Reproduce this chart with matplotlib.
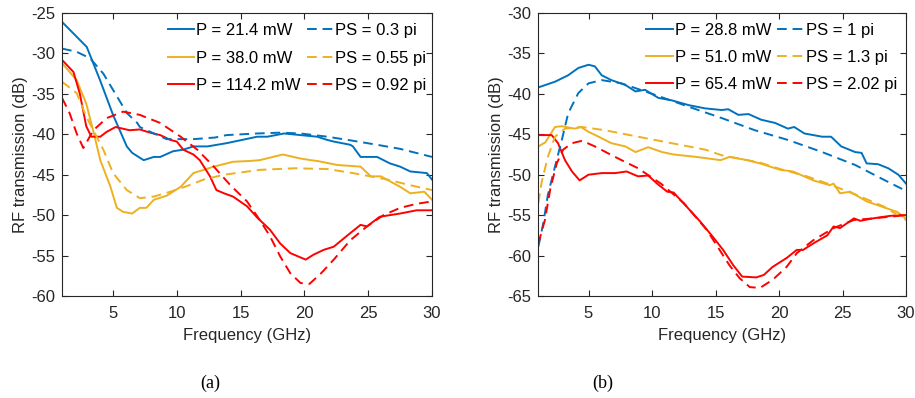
import matplotlib
matplotlib.use("Agg")
import matplotlib.pyplot as plt

plt.rcParams['font.family'] = ['Liberation Sans', 'DejaVu Sans']
plt.rcParams['axes.unicode_minus'] = False

# ---------------- Panel (a) ----------------
a_p1_f = [1.0, 2.94, 3.98, 5.0, 6.08, 6.5, 7.4, 8.2, 8.7, 9.7, 10.5, 11.3, 12.4, 13.9, 16.3, 17.1, 18.4, 19.7, 21.0, 21.8, 22.3, 23.6, 23.8, 24.4, 25.7, 26.7, 27.5, 28.3, 29.6, 30.0]
a_p1_v = [-26.1, -29.2, -33.3, -37.6, -41.5, -42.3, -43.2, -42.8, -42.8, -42.1, -41.9, -41.5, -41.5, -41.1, -40.3, -40.3, -39.9, -40.1, -40.3, -40.7, -40.9, -41.3, -41.5, -42.8, -42.8, -43.6, -44.0, -44.6, -44.8, -45.6]
a_ps1_f = [1.0, 2.15, 3.2, 4.24, 5.3, 6.1, 6.9, 7.1, 8.2, 9.2, 10.5, 11.3, 13.0, 13.9, 16.3, 18.1, 19.7, 21.8, 23.8, 25.7, 27.5, 30.0]
a_ps1_v = [-29.4, -29.8, -30.6, -32.5, -35.3, -37.4, -38.6, -39.1, -39.9, -40.6, -40.6, -40.6, -40.4, -40.1, -39.9, -39.8, -39.9, -40.3, -40.8, -41.3, -41.8, -42.8]
a_p2_f = [1.0, 2.15, 2.9, 3.5, 4.0, 4.8, 5.3, 5.8, 6.5, 7.1, 7.6, 8.2, 9.2, 10.0, 10.3, 11.3, 12.9, 14.4, 15.7, 16.5, 18.3, 19.7, 20.5, 21.0, 22.6, 24.4, 25.2, 26.0, 27.5, 28.3, 29.4, 30.0]
a_p2_v = [-31.2, -33.3, -36.2, -39.9, -43.2, -46.5, -49.1, -49.6, -49.8, -49.1, -49.1, -48.1, -47.6, -46.8, -46.5, -44.8, -44.0, -43.4, -43.3, -43.2, -42.5, -43.0, -43.2, -43.3, -43.8, -44.0, -45.2, -45.2, -46.5, -47.3, -47.1, -48.1]
a_ps2_f = [1.0, 2.15, 2.9, 4.24, 5.0, 6.08, 7.1, 8.2, 9.5, 10.8, 12.1, 13.7, 16.5, 19.2, 21.8, 23.8, 26.5, 28.3, 30.0]
a_ps2_v = [-33.5, -34.9, -37.8, -41.9, -44.8, -46.9, -47.9, -47.7, -47.1, -46.4, -45.6, -45.0, -44.4, -44.2, -44.3, -44.8, -45.6, -46.3, -46.9]
a_p3_f = [1.0, 1.9, 2.4, 2.9, 3.3, 4.0, 4.5, 5.2, 6.3, 7.1, 7.9, 8.7, 9.5, 10.0, 10.5, 11.3, 11.8, 12.6, 13.1, 13.7, 14.4, 15.5, 16.3, 17.3, 18.1, 18.9, 20.1, 20.7, 21.5, 22.3, 23.3, 24.4, 24.9, 25.9, 26.7, 27.5, 28.8, 30.0]
a_p3_v = [-30.8, -32.3, -35.0, -39.0, -40.3, -40.3, -39.7, -39.1, -39.5, -39.4, -39.8, -40.1, -40.7, -40.9, -41.9, -42.5, -43.2, -45.2, -46.9, -47.3, -47.7, -48.9, -50.3, -51.8, -53.5, -54.7, -55.5, -54.9, -54.3, -53.9, -52.6, -51.2, -51.4, -50.2, -50.0, -49.8, -49.4, -49.4]
a_ps3_f = [1.0, 1.6, 2.15, 2.67, 3.46, 4.5, 5.8, 7.1, 8.7, 10.3, 11.6, 12.9, 14.2, 15.5, 16.5, 17.3, 18.1, 18.9, 19.7, 20.4, 21.3, 22.3, 23.6, 24.9, 26.2, 27.5, 28.8, 30.0]
a_ps3_v = [-35.5, -37.4, -39.9, -41.7, -39.5, -38.0, -37.2, -37.6, -38.6, -40.3, -41.9, -44.0, -46.3, -48.3, -50.6, -52.6, -55.1, -57.2, -58.4, -58.5, -57.2, -55.5, -53.1, -51.4, -50.0, -49.1, -48.6, -48.3]
a_labels_p = ['P = 21.4 mW', 'P = 38.0 mW', 'P = 114.2 mW']
a_labels_ps = ['PS = 0.3 pi', 'PS = 0.55 pi', 'PS = 0.92 pi']

# ---------------- Panel (b) ----------------
b_p1_f = [1.05, 2.36, 3.4, 4.2, 5.0, 5.5, 6.04, 6.8, 7.9, 8.7, 9.45, 10.5, 11.55, 12.9, 14.2, 15.5, 16.0, 16.8, 17.6, 18.6, 19.7, 20.7, 21.2, 22.0, 23.4, 24.1, 24.9, 26.0, 26.5, 26.9, 27.8, 28.6, 29.4, 30.0]
b_p1_v = [-39.2, -38.5, -37.7, -36.8, -36.4, -36.6, -37.7, -38.3, -38.9, -39.7, -39.5, -40.5, -40.8, -41.4, -41.8, -42.0, -41.9, -42.6, -42.5, -43.2, -43.6, -44.3, -44.1, -44.9, -45.3, -45.3, -46.5, -47.2, -47.3, -48.6, -48.7, -49.2, -50.0, -51.1]
b_ps1_f = [1.05, 1.44, 1.8, 2.36, 2.9, 3.4, 4.2, 5.0, 6.04, 7.6, 10.2, 12.9, 15.5, 18.1, 20.7, 23.4, 26.0, 28.6, 30.0]
b_ps1_v = [-58.9, -56.0, -52.5, -49.0, -45.7, -42.4, -39.9, -38.7, -38.3, -38.7, -40.1, -41.6, -43.0, -44.5, -45.7, -47.2, -48.8, -50.9, -52.0]
b_p2_f = [1.05, 1.6, 2.36, 2.9, 3.9, 4.4, 5.0, 5.8, 6.8, 7.9, 8.7, 9.7, 10.8, 11.7, 13.5, 15.4, 16.1, 17.5, 18.5, 20.1, 21.1, 22.7, 24.0, 24.3, 24.8, 25.6, 26.9, 28.2, 29.3, 30.0]
b_p2_v = [-46.5, -46.0, -44.1, -44.0, -44.3, -44.1, -44.7, -45.3, -46.1, -46.5, -47.2, -46.6, -47.2, -47.5, -47.8, -48.2, -47.8, -48.2, -48.6, -49.4, -49.6, -50.7, -51.3, -51.1, -52.3, -52.1, -53.3, -54.0, -54.6, -55.4]
b_ps2_f = [1.05, 1.3, 1.8, 2.36, 3.15, 4.5, 6.3, 8.9, 11.55, 14.2, 15.5, 18.5, 20.1, 22.2, 24.0, 26.1, 28.2, 30.0]
b_ps2_v = [-53.5, -51.0, -47.8, -45.3, -44.3, -44.1, -44.5, -45.3, -46.1, -46.9, -47.6, -48.5, -49.3, -50.2, -51.2, -52.5, -53.9, -55.6]
b_p3_f = [1.05, 2.1, 2.6, 3.15, 3.7, 4.3, 5.0, 6.04, 7.1, 8.0, 8.9, 9.7, 10.4, 11.2, 11.7, 12.7, 13.8, 14.8, 15.6, 16.4, 17.1, 18.2, 18.8, 19.5, 20.6, 21.4, 21.9, 22.7, 23.8, 24.3, 24.8, 25.9, 26.4, 27.4, 28.7, 29.5, 30.0]
b_p3_v = [-45.1, -45.1, -46.1, -48.2, -49.6, -50.7, -50.0, -49.8, -49.8, -49.6, -50.2, -50.1, -51.1, -52.1, -52.2, -53.9, -55.8, -57.7, -59.3, -61.2, -62.6, -62.7, -62.4, -61.4, -60.3, -59.3, -59.3, -58.5, -57.5, -56.4, -56.6, -55.4, -55.7, -55.4, -55.1, -55.0, -55.0]
b_ps3_f = [1.05, 1.57, 2.0, 2.5, 3.0, 3.7, 4.5, 5.5, 6.6, 7.6, 8.9, 10.7, 12.5, 14.3, 16.1, 16.9, 17.7, 18.5, 19.5, 20.6, 21.4, 22.7, 24.3, 25.9, 27.4, 30.0]
b_ps3_v = [-58.5, -55.6, -51.7, -48.6, -46.9, -46.1, -45.8, -46.5, -47.4, -48.2, -49.2, -51.1, -53.5, -56.8, -61.2, -62.8, -63.9, -64.0, -63.0, -61.4, -59.7, -58.1, -56.6, -55.6, -55.4, -55.0]
b_labels_p = ['P = 28.8 mW', 'P = 51.0 mW', 'P = 65.4 mW']
b_labels_ps = ['PS = 1 pi', 'PS = 1.3 pi', 'PS = 2.02 pi']

colors = ['#0072BD', '#EDB120', '#FF0000']
fs = 12
tc = '#262626'

fig = plt.figure(figsize=(9.15, 3.98), dpi=100)
axA = fig.add_axes([62/915, 1-296/398, 370/915, 283/398])
axB = fig.add_axes([537.7/915, 1-296/398, 368.3/915, 283/398])

def draw(ax, solids, dashes, lp, lps, ylim, yticks, anchor, lspace):
    hs, hd = [], []
    for (f, v), c, l in zip(solids, colors, lp):
        h, = ax.plot(f, v, color=c, lw=1.4, label=l)
        hs.append(h)
    for (f, v), c, l in zip(dashes, colors, lps):
        h, = ax.plot(f, v, color=c, lw=1.4, ls=(0, (5, 3)), label=l)
        hd.append(h)
    ax.set_xlim(1, 30)
    ax.set_ylim(*ylim)
    ax.set_xticks([5, 10, 15, 20, 25, 30])
    ax.set_yticks(yticks)
    ax.tick_params(direction='in', length=4, width=0.8, top=True, right=True,
                   labelsize=fs, colors=tc)
    ax.tick_params(axis='x', pad=7)
    ax.tick_params(axis='y', pad=5)
    for s in ax.spines.values():
        s.set_color(tc)
        s.set_linewidth(0.8)
    ax.set_xlabel('Frequency (GHz)', fontsize=fs, color=tc, labelpad=5)
    ax.set_ylabel('RF transmission (dB)', fontsize=fs, color=tc, labelpad=2)
    leg = ax.legend(hs + hd, lp + lps, ncol=2, loc='upper right', frameon=False,
                    bbox_to_anchor=anchor, borderaxespad=0, borderpad=0,
                    fontsize=fs, handlelength=1.6, handletextpad=0.12,
                    columnspacing=0.35, labelspacing=lspace)
    for t in leg.get_texts():
        t.set_color('black')

draw(axA, [(a_p1_f, a_p1_v), (a_p2_f, a_p2_v), (a_p3_f, a_p3_v)],
     [(a_ps1_f, a_ps1_v), (a_ps2_f, a_ps2_v), (a_ps3_f, a_ps3_v)],
     a_labels_p, a_labels_ps, (-60, -25), [-60, -55, -50, -45, -40, -35, -30, -25],
     (0.985, 0.965), 0.76)
draw(axB, [(b_p1_f, b_p1_v), (b_p2_f, b_p2_v), (b_p3_f, b_p3_v)],
     [(b_ps1_f, b_ps1_v), (b_ps2_f, b_ps2_v), (b_ps3_f, b_ps3_v)],
     b_labels_p, b_labels_ps, (-65, -30), [-65, -60, -55, -50, -45, -40, -35, -30],
     (0.975, 0.965), 0.72)

fig.text(210/915, 1-383/398, '(a)', family='Liberation Serif', fontsize=13, ha='center', va='center')
fig.text(603/915, 1-383/398, '(b)', family='Liberation Serif', fontsize=13, ha='center', va='center')

fig.savefig('out.png', dpi=100)
